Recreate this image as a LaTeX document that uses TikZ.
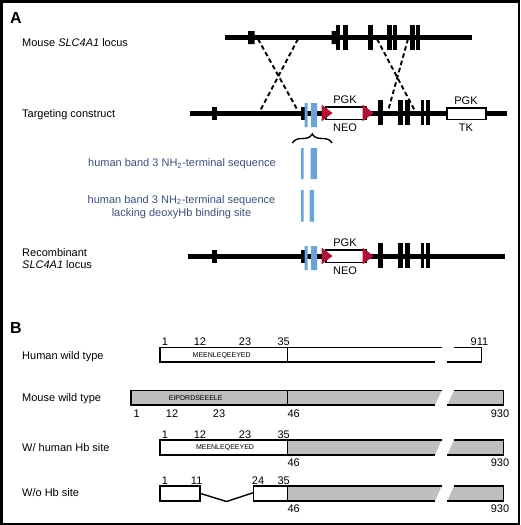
\documentclass[tikz,border=0pt]{standalone}
\usepackage{fontspec}
\setmainfont{Liberation Sans}
\usetikzlibrary{decorations.pathreplacing}
\definecolor{bandblue}{RGB}{104,164,216}
\definecolor{neored}{RGB}{176,18,52}
\definecolor{labelblue}{RGB}{62,78,124}
\definecolor{protgray}{RGB}{190,190,190}
% gray mouse part of a protein bar, with the break: left x, top, bottom
\newcommand{\protTail}[3]{%
  \fill[protgray] (#1,#2) -- (441.7,#2) -- (435,#3) -- (#1,#3) -- cycle
    (454,#2) -- (503.3,#2) -- (503.3,#3) -- (447.3,#3) -- cycle;
  \draw[prot] (441.7,#2) -- (#1,#2) -- (#1,#3) -- (435,#3)
    (454,#2) -- (503.3,#2) -- (503.3,#3) -- (447.3,#3);}

\begin{document}
\begin{tikzpicture}[x=1pt,y=-1pt,font=\fontsize{11}{13}\selectfont,
  lbl/.style={anchor=base west,inner sep=0pt},
  num/.style={anchor=base,inner sep=0pt},
  seq/.style={anchor=base,inner sep=0pt,font=\fontsize{7}{8}\selectfont},
  panel/.style={anchor=base west,inner sep=0pt,font=\fontsize{16}{18}\selectfont\bfseries},
  dna/.style={line width=5pt},
  xover/.style={dash pattern=on 4.5pt off 3pt,line width=1.9pt},
  cassette/.style={draw,fill=white,line width=1.3pt},
  prot/.style={line width=1.4pt}]
\useasboundingbox (0,0) rectangle (520,525);
\draw[line width=2.5pt] (1.25,1.25) rectangle (518.75,523.75);

% panel A
\node[panel] (pA) at (10,23.3) {A};
\node[lbl] (mouse) at (22,46) {Mouse \textit{SLC4A1} locus};
\node[lbl] (target) at (22,117) {Targeting construct};
\node[lbl] (recomb) at (22,256) {Recombinant};
\node[lbl] (recomb2) at (22,268.5) {\textit{SLC4A1} locus};

\draw[dna] (225,37) -- (472,37);
\fill (248,31) rectangle (254.5,44) (331.5,31) rectangle (336,44);
\foreach \a/\b in {336/339.5,342.5/347.5,367.5/372.5,386.5/391.5,392.5/396.5,409.5/414.5,416/420}
  \fill (\a,25) rectangle (\b,50);

\draw[dna] (190,113) -- (507,113);
\draw[dna] (188,256) -- (505,256);
\foreach \y/\r in {113/t,256/r} {
  \begin{scope}[shift={(0,\y)}]
  \fill (211.5,-6.5) rectangle (217,6.5);
  \fill (300.5,-6.5) rectangle (305.5,7);
  \fill[bandblue] (304.5,-10) rectangle (307.5,14) (311,-10) rectangle (317,14);
  \draw[cassette] (326,-6) rectangle (366,6.5);
  \fill[neored] (321.5,-8.5) -- (332.5,0) -- (321.5,8.5) -- cycle
    (362.5,-8.5) -- (373.5,0) -- (362.5,8.5) -- cycle;
  \foreach \a/\b in {378/383,397.5/403,404.5/409.5,420.5/424,425.5/429.5}
    \fill (\a,-13) rectangle (\b,12);
  \node[num] (pgk\r) at (345,-9.5) {PGK};
  \node[num] (neo\r) at (345,18.5) {NEO};
  \end{scope}
}
\draw[cassette] (447,108) rectangle (486,119.5);
\node[num] (pgktk) at (466,104) {PGK};
\node[num] (tk) at (466,131.7) {TK};

% crossovers
\coordinate (mL1) at (258,39);
\coordinate (mL2) at (298,39);
\coordinate (tL1) at (260,111);
\coordinate (tL2) at (298,111);
\coordinate (mR1) at (377,39);
\coordinate (mR2) at (408,39);
\coordinate (tR1) at (388,111);
\coordinate (tR2) at (415,111);
\draw[xover] (mL1) -- (tL2) (mL2) -- (tL1) (mR1) -- (tR2) (mR2) -- (tR1);

\draw[decorate,decoration={brace,amplitude=9pt},line width=1.4pt] (292.5,143) -- (332,143);
\fill[bandblue] (301,148) rectangle (303.5,179) (310.5,148) rectangle (317,179);
\fill[bandblue] (301,190) rectangle (303.5,221.5) (309.5,190) rectangle (314,221.5);
\node[anchor=base east,inner sep=0pt,text=labelblue] (nhA) at (276,166.7)
  {human band 3 NH\textsubscript{2}-terminal sequence};
\node[num,text=labelblue] (nhB) at (181.5,203.3)
  {human band 3 NH\textsubscript{2}-terminal sequence};
\node[num,text=labelblue] (nhC) at (181.5,216) {lacking deoxyHb binding site};

% panel B
\node[panel] (pB) at (10,333.3) {B};
\node[lbl] (hwt) at (22,359.3) {Human wild type};
\node[lbl] (mwt) at (22,401.7) {Mouse wild type};
\node[lbl] (whb) at (22,451) {W/ human Hb site};
\node[lbl] (wohb) at (22,496.7) {W/o Hb site};

\draw[prot] (160,347.3) rectangle (287.3,362);
\draw[prot] (287.3,347.3) -- (441.7,347.3) (435,362) -- (287.3,362)
  (454,347.3) -- (481.7,347.3) -- (481.7,362) -- (447.3,362);
\protTail{131}{390.7}{405}
\draw[prot] (287.3,390.7) -- (287.3,405);
\protTail{287.3}{440}{455}
\draw[prot] (160,440) rectangle (287.3,455);
\protTail{287.3}{486}{501}
\draw[prot] (160,486) rectangle (200,501) (253.3,486) rectangle (287.3,501);
\draw[prot] (200,493.3) -- (226.5,501.5) -- (253.3,492.7);

\node[seq] (hseq) at (221.7,357.3) {MEENLEQEEYED};
\node[seq] (mseq) at (195.7,400) {EIPDRDSEEELE};
\node[seq] (wseq) at (225,449.5) {MEENLEQEEYED};

\foreach \x/\1 in {165/1,200/12,245/23,283.7/35,479.5/911}
  \node[num] (h\1) at (\x,345) {\1};
\foreach \x/\1 in {136.7/1,172/12,219/23,293.7/46,500/930}
  \node[num] (m\1) at (\x,417.7) {\1};
\foreach \x/\1 in {165/1,200/12,245/23,283.7/35}
  \node[num] (w\1) at (\x,438.3) {\1};
\foreach \x/\1 in {165/1,196.7/11,258/24,283.7/35}
  \node[num] (o\1) at (\x,484) {\1};
\foreach \y/\r in {466/w,512/o} {
  \node[num] (\r46) at (293.7,\y) {46};
  \node[num] (\r930) at (500,\y) {930};
}
\end{tikzpicture}
\end{document}
